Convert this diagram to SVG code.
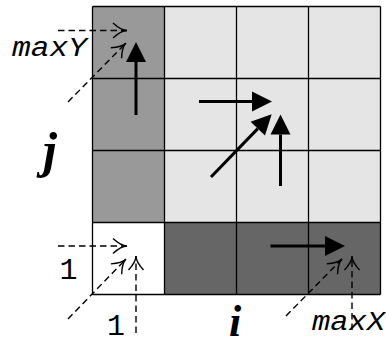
<svg xmlns="http://www.w3.org/2000/svg" width="386" height="345" viewBox="0 0 386 345">
<style>
.g{stroke:#000;stroke-width:1.3}
.solid{stroke:#000;stroke-width:3;fill:none;marker-end:url(#tri)}
.dash{stroke:#000;stroke-width:1.4;fill:none;stroke-dasharray:6.5,4;marker-end:url(#to)}
.mono{font-family:"Liberation Mono","Courier New",monospace;font-style:italic;font-size:27px}
.num{font-family:"Liberation Mono","Courier New",monospace;font-size:30px;text-anchor:middle}
.big{font-family:"Liberation Serif","Times New Roman",serif;font-style:italic;font-weight:bold}
</style>
<defs>
<marker id="tri" markerUnits="userSpaceOnUse" markerWidth="40" markerHeight="40" refX="0" refY="0" orient="auto" overflow="visible">
<path d="M0,-10 L20,0 L0,10 z" fill="#000"/>
</marker>
<marker id="to" markerUnits="userSpaceOnUse" markerWidth="40" markerHeight="40" refX="0" refY="0" orient="auto" overflow="visible">
<path d="M-14,-7.5 C-8,-2 -4,0 0,0 C-4,0 -8,2 -14,7.5" fill="none" stroke="#000" stroke-width="1.4"/>
</marker>
</defs>
<g id="grid">
<rect x="92.5" y="6.5" width="72" height="216" fill="#999999"/>
<rect x="164.5" y="6.5" width="216" height="216" fill="#e5e5e5"/>
<rect x="92.5" y="222.5" width="72" height="72" fill="#ffffff"/>
<rect x="164.5" y="222.5" width="216" height="72" fill="#666666"/>
<g class="g">
<line x1="92.5" y1="6.5" x2="380.5" y2="6.5"/>
<line x1="92.5" y1="78.5" x2="380.5" y2="78.5"/>
<line x1="92.5" y1="150.5" x2="380.5" y2="150.5"/>
<line x1="92.5" y1="222.5" x2="380.5" y2="222.5"/>
<line x1="92.5" y1="294.5" x2="380.5" y2="294.5"/>
<line x1="92.5" y1="6.5" x2="92.5" y2="294.5"/>
<line x1="164.5" y1="6.5" x2="164.5" y2="294.5"/>
<line x1="236.5" y1="6.5" x2="236.5" y2="294.5"/>
<line x1="308.5" y1="6.5" x2="308.5" y2="294.5"/>
<line x1="380.5" y1="6.5" x2="380.5" y2="294.5"/>
</g>
</g>
<g id="connectors">
<line class="solid" x1="136" y1="115" x2="136" y2="62"/>
<line class="solid" x1="199" y1="101.5" x2="252" y2="101.5"/>
<line class="solid" x1="211" y1="177" x2="257.8" y2="128.6"/>
<line class="solid" x1="280.5" y1="186" x2="280.5" y2="134.5"/>
<line class="solid" x1="270.5" y1="246" x2="325" y2="246"/>
<line class="dash" x1="58" y1="30.5" x2="127" y2="30.5"/>
<line class="dash" x1="68" y1="102" x2="126" y2="43"/>
<line class="dash" x1="58" y1="246" x2="127" y2="246"/>
<line class="dash" x1="68" y1="319" x2="126" y2="259"/>
<line class="dash" x1="136" y1="333" x2="136" y2="256"/>
<line class="dash" x1="286" y1="316" x2="342" y2="259"/>
<line class="dash" x1="352" y1="330" x2="352" y2="256"/>
</g>
<g id="labels">
<text class="mono" x="12" y="56" textLength="75" lengthAdjust="spacingAndGlyphs">maxY</text>
<text class="mono" x="312" y="330" textLength="73" lengthAdjust="spacingAndGlyphs">maxX</text>
<text class="num" x="68.5" y="279">1</text>
<text class="num" x="116" y="335">1</text>
<text class="big" x="43" y="167" font-size="50">j</text>
<text class="big" x="229" y="336" font-size="44">i</text>
</g>
</svg>
